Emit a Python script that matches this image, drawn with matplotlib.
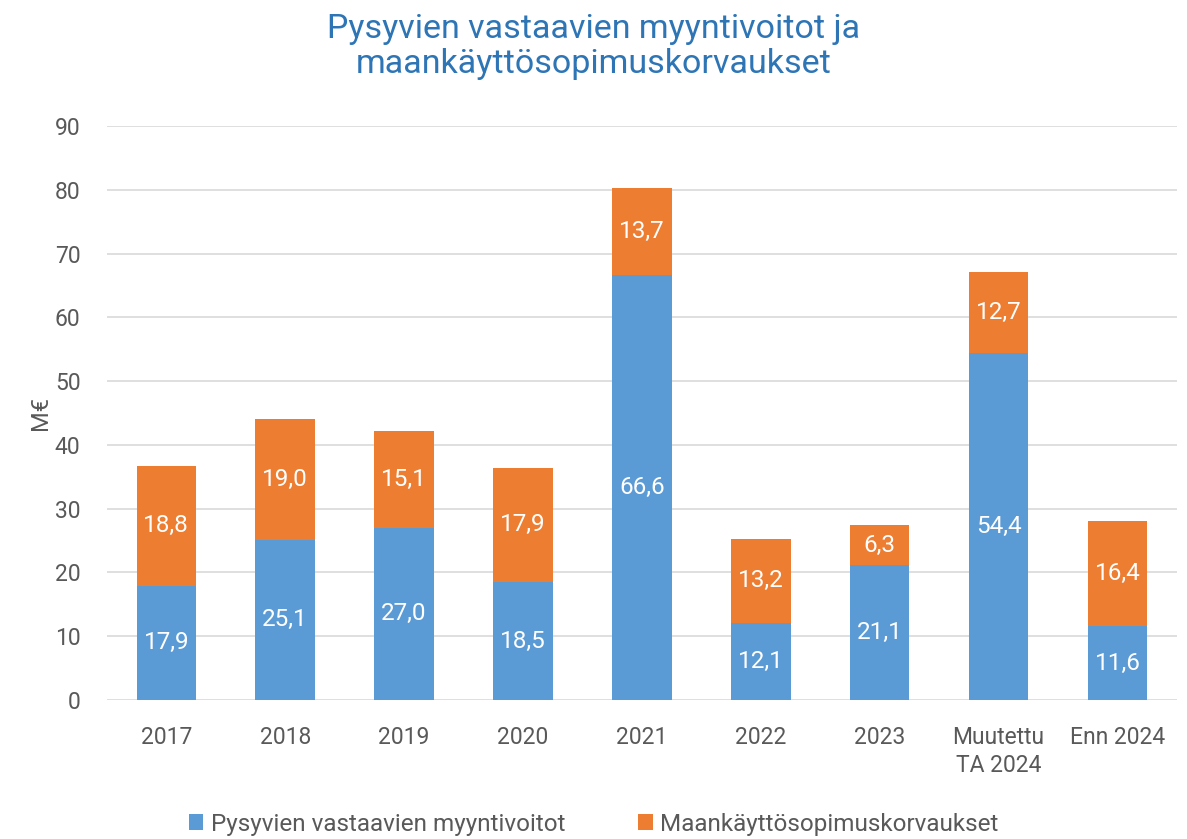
import matplotlib
matplotlib.use("Agg")
import matplotlib.pyplot as plt
import numpy as np

plt.rcParams["font.family"] = ["Roboto", "DejaVu Sans"]

categories = ["2017", "2018", "2019", "2020", "2021", "2022", "2023",
              "Muutettu\nTA 2024", "Enn 2024"]
myyntivoitot = [17.9, 25.1, 27.0, 18.5, 66.6, 12.1, 21.1, 54.4, 11.6]
korvaukset = [18.8, 19.0, 15.1, 17.9, 13.7, 13.2, 6.3, 12.7, 16.4]
yticks = [0, 10, 20, 30, 40, 50, 60, 70, 80, 90]

BLUE = "#5B9BD5"
ORANGE = "#ED7D31"
GREY = "#595959"

fig = plt.figure(figsize=(11.87, 8.39), dpi=100)
ax = fig.add_axes([0.090, 0.1657, 0.9016, 0.6841])

x = np.arange(len(categories))
b1 = ax.bar(x, myyntivoitot, width=0.5, color=BLUE, zorder=3,
            label="Pysyvien vastaavien myyntivoitot")
b2 = ax.bar(x, korvaukset, width=0.5, bottom=myyntivoitot, color=ORANGE, zorder=3,
            label="Maankäyttösopimuskorvaukset")

fmt = lambda v: f"{v:.1f}".replace(".", ",")
for bars, vals, base in [(b1, myyntivoitot, [0] * len(x)), (b2, korvaukset, myyntivoitot)]:
    for xi, v, b in zip(x, vals, base):
        ax.text(xi, b + v / 2, fmt(v), ha="center", va="center", color="white",
                fontsize=17.5, zorder=4)

ax.set_xlim(-0.5, len(x) - 0.5)
ax.set_ylim(0, 90)
ax.set_yticks(yticks)
ax.set_xticks(x)
ax.set_xticklabels(categories, linespacing=1.25)
ax.tick_params(length=0, labelsize=16.5, labelcolor=GREY)
ax.tick_params(axis="y", pad=19)
ax.tick_params(axis="x", pad=19)
ax.grid(axis="y", color="#D9D9D9", lw=1.2, zorder=0)
for s in ax.spines.values():
    s.set_visible(False)

ax.set_ylabel("M€", fontsize=17, color=GREY, labelpad=2)

fig.suptitle("Pysyvien vastaavien myyntivoitot ja\nmaankäyttösopimuskorvaukset",
             y=0.985, fontsize=24.5, color="#2E75B6", linespacing=1.15)

fig.legend(handles=[b1, b2], loc="lower center", ncol=2, frameon=False,
           bbox_to_anchor=(0.5, -0.022), fontsize=17.5, labelcolor=GREY,
           handlelength=0.6, handleheight=0.6, handletextpad=0.3, columnspacing=3)

fig.savefig("out.png", dpi=100)
